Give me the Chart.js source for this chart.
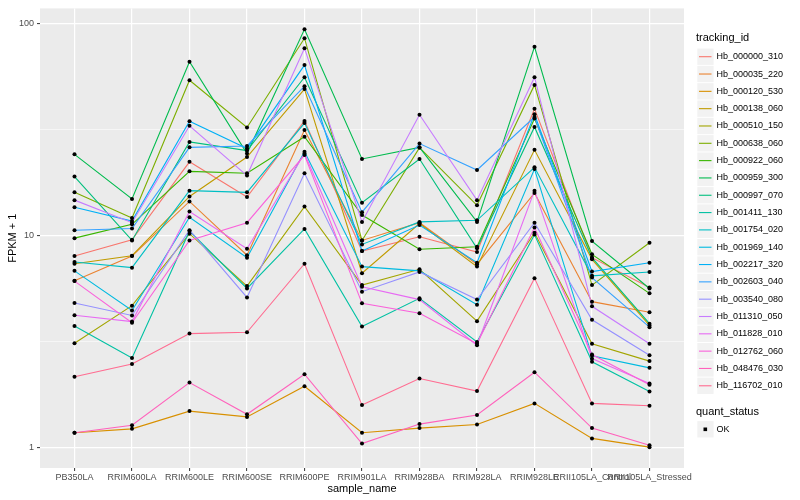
<!DOCTYPE html>
<html>
<head>
<meta charset="utf-8">
<script src="https://cdn.jsdelivr.net/npm/chart.js@4.4.0/dist/chart.umd.min.js"></script>
<style>
html,body{margin:0;padding:0;background:#ffffff;}
#wrap{width:800px;height:500px;}
</style>
</head>
<body>
<div id="wrap"><canvas id="c" width="800" height="500"></canvas></div>
<script>
// ---------------- data ----------------
const categories = ["PB350LA","RRIM600LA","RRIM600LE","RRIM600SE","RRIM600PE","RRIM901LA","RRIM928BA","RRIM928LA","RRIM928LE","RRII105LA_Control","RRII105LA_Stressed"];
const trackingIds = ["Hb_000000_310","Hb_000035_220","Hb_000120_530","Hb_000138_060","Hb_000510_150","Hb_000638_060","Hb_000922_060","Hb_000959_300","Hb_000997_070","Hb_001411_130","Hb_001754_020","Hb_001969_140","Hb_002217_320","Hb_002603_040","Hb_003540_080","Hb_011310_050","Hb_011828_010","Hb_012762_060","Hb_048476_030","Hb_116702_010"];
const seriesColors = ["#F8766D","#EA8331","#D89000","#C09B00","#A3A500","#7CAE00","#39B600","#00BB4E","#00BF7D","#00C1A3","#00BFC4","#00BAE0","#00B0F6","#35A2FF","#9590FF","#C77CFF","#E76BF3","#FA62DB","#FF62BC","#FF6C91"];
const yMajorTicks = [1, 10, 100];
const yMinorTicks = [3.1623, 31.623];

const hb_000000_310 = [8.0, 9.55, 22.3, 15.2, 34.8, 8.45, 9.86, 8.36, 39.7, 7.86, 5.68];
const hb_000035_220 = [6.11, 8.0, 14.5, 8.07, 31.5, 9.48, 11.5, 7.32, 15.9, 4.87, 4.34];
const hb_000120_530 = [1.17, 1.22, 1.48, 1.39, 1.94, 1.17, 1.23, 1.28, 1.61, 1.10, 1.0];
const hb_000138_060 = [7.36, 8.03, 15.3, 23.5, 49.2, 6.64, 11.4, 7.13, 25.4, 7.72, 3.76];
const hb_000510_150 = [3.10, 4.66, 10.2, 5.77, 13.7, 5.83, 6.93, 3.94, 10.3, 3.08, 2.55];
const hb_000638_060 = [16.0, 12.1, 54.2, 32.4, 85.6, 9.48, 26.0, 13.9, 51.5, 5.83, 9.24];
const hb_000922_060 = [9.72, 11.3, 20.1, 19.7, 29.3, 12.5, 8.61, 8.85, 35.7, 8.15, 5.33];
const hb_000959_300 = [24.2, 14.9, 66.3, 24.4, 94.3, 23.0, 26.1, 11.6, 78.0, 9.41, 5.62];
const hb_000997_070 = [19.0, 9.48, 27.7, 25.2, 56.0, 14.3, 23.0, 8.70, 32.6, 7.86, 3.83];
const hb_001411_130 = [3.74, 2.64, 10.5, 5.62, 10.75, 3.72, 5.05, 3.14, 10.1, 2.53, 1.83];
const hb_001754_020 = [7.50, 7.05, 16.3, 16.0, 34.0, 9.08, 11.6, 11.8, 21.0, 6.45, 6.73];
const hb_001969_140 = [6.81, 4.42, 12.2, 7.86, 24.9, 7.13, 6.81, 4.71, 20.6, 2.70, 2.37];
const hb_002217_320 = [13.6, 11.7, 34.7, 25.8, 63.9, 8.45, 11.2, 7.44, 37.4, 6.76, 7.44];
const hb_002603_040 = [10.6, 10.8, 26.1, 26.5, 50.8, 12.9, 27.2, 20.4, 36.3, 6.33, 3.69];
const hb_003540_080 = [4.80, 4.19, 10.6, 5.10, 19.7, 5.43, 6.73, 4.98, 11.5, 4.00, 2.72];
const hb_011310_050 = [14.7, 11.5, 33.0, 19.2, 76.8, 11.6, 37.2, 14.7, 56.0, 4.63, 3.08];
const hb_011828_010 = [4.20, 3.92, 13.0, 8.66, 24.4, 5.73, 4.98, 3.03, 16.3, 2.62, 2.00];
const hb_012762_060 = [6.09, 3.87, 9.48, 11.5, 24.0, 4.78, 4.29, 3.08, 10.9, 2.74, 1.97];
const hb_048476_030 = [1.17, 1.27, 2.02, 1.43, 2.21, 1.04, 1.285, 1.42, 2.26, 1.23, 1.02];
const hb_116702_010 = [2.15, 2.47, 3.44, 3.49, 7.36, 1.58, 2.11, 1.84, 6.29, 1.61, 1.57];

const seriesValues = [hb_000000_310, hb_000035_220, hb_000120_530, hb_000138_060, hb_000510_150,
  hb_000638_060, hb_000922_060, hb_000959_300, hb_000997_070, hb_001411_130, hb_001754_020,
  hb_001969_140, hb_002217_320, hb_002603_040, hb_003540_080, hb_011310_050, hb_011828_010,
  hb_012762_060, hb_048476_030, hb_116702_010];

// ---------------- chart ----------------
const FONT = "'Liberation Sans', Arial, Helvetica, sans-serif";

const datasets = [];
seriesValues.forEach((vals, i) => {
  datasets.push({
    label: trackingIds[i],
    data: vals.map((v, j) => ({x: j, y: v})),
    borderColor: seriesColors[i],
    backgroundColor: seriesColors[i],
    borderWidth: 1.1,
    pointRadius: 0,
    pointHoverRadius: 0,
    fill: false,
    tension: 0,
    order: 100 - i
  });
});
seriesValues.forEach((vals, i) => {
  datasets.push({
    label: trackingIds[i] + ' OK',
    data: vals.map((v, j) => ({x: j, y: v})),
    showLine: false,
    pointRadius: 2.0,
    pointHoverRadius: 2.0,
    pointStyle: 'circle',
    pointBackgroundColor: '#000000',
    pointBorderColor: '#000000',
    pointBorderWidth: 0,
    order: 0
  });
});

const panelBg = {
  id: 'panelBg',
  beforeDraw(chart) {
    const {ctx, chartArea: a} = chart;
    ctx.save();
    ctx.fillStyle = '#FFFFFF';
    ctx.fillRect(0, 0, chart.width, chart.height);
    ctx.fillStyle = '#EBEBEB';
    ctx.fillRect(a.left, a.top, a.right - a.left, a.bottom - a.top);
    ctx.restore();
  }
};

const ggLegend = {
  id: 'ggLegend',
  afterDraw(chart) {
    const ctx = chart.ctx;
    ctx.save();
    ctx.textBaseline = 'middle';
    ctx.textAlign = 'left';
    ctx.fillStyle = '#000000';
    ctx.font = '11px ' + FONT;
    ctx.fillText('tracking_id', 696, 38);
    const step = 17.32, y0 = 56.7;
    const lineSets = chart.data.datasets.slice(0, trackingIds.length);
    lineSets.forEach((ds, i) => {
      const cy = y0 + i * step;
      ctx.fillStyle = '#F2F2F2';
      ctx.fillRect(697.3, cy - step / 2 + 0.5, 16.3, step - 1);
      ctx.strokeStyle = ds.borderColor;
      ctx.lineWidth = 1.1;
      ctx.beginPath();
      ctx.moveTo(699, cy);
      ctx.lineTo(711.5, cy);
      ctx.stroke();
      ctx.fillStyle = '#000000';
      ctx.font = '9px ' + FONT;
      ctx.fillText(ds.label, 716.5, cy);
    });
    ctx.font = '11px ' + FONT;
    ctx.fillStyle = '#000000';
    ctx.fillText('quant_status', 696, 412);
    const oy = 429.3;
    ctx.fillStyle = '#F2F2F2';
    ctx.fillRect(697.3, oy - step / 2 + 0.5, 16.3, step - 1);
    ctx.fillStyle = '#000000';
    ctx.fillRect(703.5, oy - 1.8, 3.6, 3.6);
    ctx.font = '9px ' + FONT;
    ctx.fillText('OK', 716.5, oy);
    ctx.restore();
  }
};

new Chart(document.getElementById('c'), {
  type: 'line',
  data: {datasets},
  plugins: [panelBg, ggLegend],
  options: {
    responsive: false,
    animation: false,
    events: [],
    layout: {padding: {left: 0, top: 5, right: 116, bottom: 0}},
    plugins: {legend: {display: false}, tooltip: {enabled: false}, title: {display: false}},
    scales: {
      x: {
        type: 'linear',
        min: -0.6,
        max: 10.6,
        bounds: 'data',
        afterBuildTicks: (s) => { s.ticks = categories.map((c, i) => ({value: i})); },
        afterFit: (s) => { s.height = 32; },
        grid: {color: '#FFFFFF', lineWidth: 1.2, drawTicks: true, tickLength: 3, tickColor: '#333333', tickWidth: 1},
        border: {display: false},
        ticks: {
          autoSkip: false, maxRotation: 0, minRotation: 0, padding: 1,
          color: '#4D4D4D', font: {family: FONT, size: 9},
          callback: (v) => (categories[v] !== undefined ? categories[v] : '')
        },
        title: {display: true, text: 'sample_name', color: '#000000', font: {family: FONT, size: 11}, padding: {top: 0, bottom: 4}}
      },
      y: {
        type: 'logarithmic',
        min: 0.797,
        max: 118.4,
        bounds: 'data',
        afterBuildTicks: (s) => {
          s.ticks = [yMajorTicks[0], yMinorTicks[0], yMajorTicks[1], yMinorTicks[1], yMajorTicks[2]].map(v => ({value: v}));
        },
        afterFit: (s) => { s.width = 40; },
        grid: {
          color: '#FFFFFF',
          lineWidth: (c) => (c.tick && yMajorTicks.includes(c.tick.value)) ? 1.2 : 0.55,
          drawTicks: true,
          tickLength: 3,
          tickWidth: 1,
          tickColor: (c) => (c.tick && yMajorTicks.includes(c.tick.value)) ? '#333333' : 'rgba(0,0,0,0)'
        },
        border: {display: false},
        ticks: {
          autoSkip: false, padding: 3,
          color: '#4D4D4D', font: {family: FONT, size: 9},
          callback: (v) => (yMajorTicks.includes(v) ? String(v) : '')
        },
        title: {display: true, text: 'FPKM + 1', color: '#000000', font: {family: FONT, size: 11}, padding: {top: 6, bottom: 0}}
      }
    }
  }
});
</script>
</body>
</html>
